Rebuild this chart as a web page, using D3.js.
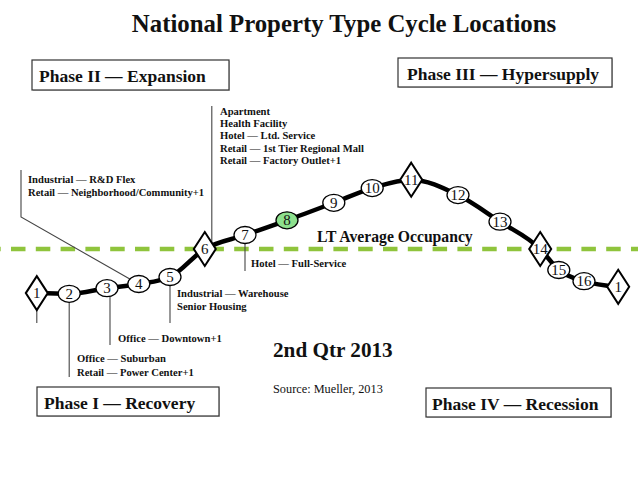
<!DOCTYPE html>
<html>
<head>
<meta charset="utf-8">
<script src="https://cdn.jsdelivr.net/npm/d3@7"></script>
<style>
  html, body { margin: 0; padding: 0; background: #fff; }
  svg { display: block; }
  text { font-family: "Liberation Serif", "Times New Roman", serif; fill: #111; }
</style>
</head>
<body>
<svg id="chart" width="638" height="479"></svg>
<script>
// ---------------- DATA ----------------
const title = "National Property Type Cycle Locations";
const pointLabels = ["1","2","3","4","5","6","7","8","9","10","11","12","13","14","15","16","1"];
// position along the cycle (0-100)
const cyclePos = [2.8, 8.2, 14.5, 19.8, 25.0, 30.8, 37.5, 44.5, 52.3, 58.7, 65.2, 73.0, 80.0, 86.7, 89.8, 94.0, 99.7];
// occupancy relative to long-term average (index units)
const occupancy = [-6.3, -6.4, -5.6, -5.0, -4.0, 0.0, 2.0, 4.1, 6.6, 8.7, 9.9, 7.7, 3.9, 0.0, -3.0, -4.6, -5.4];
const pointShape = ["diamond","circle","circle","circle","circle","diamond","circle","circle","circle","circle","diamond","circle","circle","diamond","circle","circle","diamond"];
const currentPoint = "8";
const avgOccupancy = 0;
const avgLabel = "LT Average Occupancy";
const phaseNames = ["Phase I — Recovery", "Phase II — Expansion", "Phase III — Hypersupply", "Phase IV — Recession"];
const periodLabel = "2nd Qtr 2013";
const sourceLabel = "Source: Mueller, 2013";

const typesAt2 = ["Office — Suburban", "Retail — Power Center+1"];
const typesAt3 = ["Office — Downtown+1"];
const typesAt4 = ["Industrial — R&D Flex", "Retail — Neighborhood/Community+1"];
const typesAt5 = ["Industrial — Warehouse", "Senior Housing"];
const typesAt6 = ["Apartment", "Health Facility", "Hotel — Ltd. Service", "Retail — 1st Tier Regional Mall", "Retail — Factory Outlet+1"];
const typesAt7 = ["Hotel — Full-Service"];

// ---------------- CHART ----------------
const svg = d3.select("#chart");
const W = 638, H = 479;

const x = d3.scaleLinear().domain([0, 100]).range([20, 620]);
const y = d3.scaleLinear().domain([-10, 10]).range([319, 179]);

const pts = pointLabels.map((l, i) => ({label: l, pos: cyclePos[i], occ: occupancy[i], shape: pointShape[i], i}));
const px = d => x(d.pos), py = d => y(d.occ);

// Title
svg.append("text").attr("x", 344).attr("y", 32).attr("text-anchor", "middle")
  .style("font-size", "24.8px").style("font-weight", "bold").text(title);

// Phase boxes
const boxes = [
  {name: phaseNames[1], x: 32, y: 60, w: 197, h: 30, pad: 7},
  {name: phaseNames[2], x: 398, y: 58, w: 214, h: 29, pad: 9},
  {name: phaseNames[0], x: 37, y: 387, w: 182, h: 29, pad: 7},
  {name: phaseNames[3], x: 426, y: 388, w: 185, h: 29, pad: 6}
];
boxes.forEach(b => {
  svg.append("rect").attr("x", b.x + 1).attr("y", b.y + 1).attr("width", b.w).attr("height", b.h)
    .attr("fill", "#ccc");
  svg.append("rect").attr("x", b.x).attr("y", b.y).attr("width", b.w).attr("height", b.h)
    .attr("fill", "#fff").attr("stroke", "#333").attr("stroke-width", 1.2);
  svg.append("text").attr("x", b.x + b.pad).attr("y", b.y + 22)
    .style("font-size", "17.5px").style("font-weight", "bold").text(b.name);
});

// LT average dashed line
svg.append("line").attr("x1", 0).attr("x2", W).attr("y1", y(avgOccupancy)).attr("y2", y(avgOccupancy))
  .attr("stroke", "#8fc43c").attr("stroke-width", 4.5).attr("stroke-dasharray", "14.5,10.3")
  .attr("stroke-dashoffset", 13.8);
svg.append("text").attr("x", 317).attr("y", y(avgOccupancy) - 7)
  .style("font-size", "15.7px").style("font-weight", "bold").text(avgLabel);

// Leader lines & annotation text
const lead = svg.append("g").attr("stroke", "#444").attr("stroke-width", 1.1).attr("fill", "none");
const ann = svg.append("g").style("font-size", "10.6px").style("font-weight", "bold");
function block(lines, tx, ty, dy) {
  lines.forEach((t, k) => ann.append("text").attr("x", tx).attr("y", ty + k * dy).text(t));
}
const P = pts;
// point 1 stub
lead.append("line").attr("x1", px(P[0])).attr("x2", px(P[0])).attr("y1", py(P[0]) + 16).attr("y2", 323);
// point 2
lead.append("line").attr("x1", px(P[1])).attr("x2", px(P[1])).attr("y1", py(P[1]) + 8).attr("y2", 377);
block(typesAt2, 77, 362, 14);
// point 3
lead.append("line").attr("x1", px(P[2]) + 3).attr("x2", px(P[2]) + 3).attr("y1", py(P[2]) + 8).attr("y2", 345);
block(typesAt3, 118, 342, 12);
// point 4 (diagonal leader)
lead.append("polyline").attr("points", [[px(P[3]) - 9, py(P[3]) - 5], [21, 217], [21, 170]].map(p => p.join(",")).join(" "));
block(typesAt4, 28, 183, 12.5);
// point 5
lead.append("line").attr("x1", px(P[4])).attr("x2", px(P[4])).attr("y1", py(P[4]) + 8).attr("y2", 323);
block(typesAt5, 177, 297, 13);
// point 6
lead.append("line").attr("x1", px(P[5]) + 7).attr("x2", px(P[5]) + 7).attr("y1", 106).attr("y2", py(P[5]) - 6);
block(typesAt6, 220, 115, 12.2);
// point 7
lead.append("line").attr("x1", px(P[6])).attr("x2", px(P[6])).attr("y1", py(P[6]) + 8).attr("y2", 271);
block(typesAt7, 251, 267, 12);

// Cycle curve
const line = d3.line().x(px).y(py).curve(d3.curveMonotoneX);
svg.append("path").datum(pts).attr("d", line).attr("fill", "none")
  .attr("stroke", "#000").attr("stroke-width", 4.5).attr("stroke-linejoin", "round");

// Markers
const mk = svg.append("g").selectAll("g").data(pts).join("g")
  .attr("transform", d => `translate(${px(d)},${py(d)})`);
const dw = 11, dh = 17;
mk.filter(d => d.shape === "diamond").append("path")
  .attr("d", `M0,${-dh}L${dw},0L0,${dh}L${-dw},0Z`)
  .attr("fill", "#fff").attr("stroke", "#000").attr("stroke-width", 2);
mk.filter(d => d.shape === "circle").append("ellipse")
  .attr("rx", 11).attr("ry", 8.5)
  .attr("fill", d => d.label === currentPoint ? "#8de08d" : "#fff")
  .attr("stroke", "#000").attr("stroke-width", 1.3);
mk.append("text").attr("text-anchor", "middle").attr("y", 5)
  .style("font-size", "15px").text(d => d.label);

// Period & source
svg.append("text").attr("x", 273).attr("y", 357).style("font-size", "21.2px").style("font-weight", "bold").text(periodLabel);
svg.append("text").attr("x", 273).attr("y", 393).style("font-size", "12.3px").text(sourceLabel);
</script>
</body>
</html>
